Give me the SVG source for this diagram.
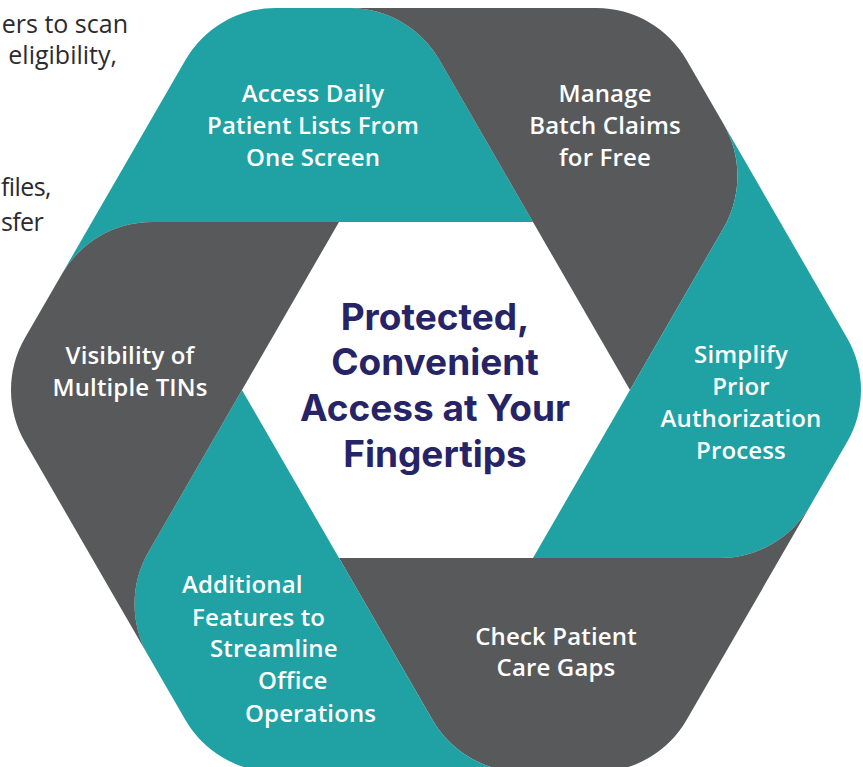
<svg xmlns="http://www.w3.org/2000/svg" xmlns:xlink="http://www.w3.org/1999/xlink" width="863" height="767" viewBox="0 0 863 767">
  <style>
    .teal { fill: #20A1A3; }
    .gray { fill: #58595B; }
    .lbl { font-family: "Open Sans", "Noto Sans", "Liberation Sans", sans-serif; font-size: 24px; letter-spacing: 0.15px; font-weight: 600; fill: #FFFFFF; text-anchor: middle; }
    .lbl-start { text-anchor: start; }
    .title { font-family: Inter, "Open Sans", "Liberation Sans", sans-serif; font-size: 37px; font-weight: 700; fill: #262466; text-anchor: middle; }
    .side { font-family: "Open Sans", "Noto Sans", "Liberation Sans", sans-serif; font-size: 25px; font-weight: 400; fill: #2B2B2D; text-anchor: end; }
    .side-start { text-anchor: start; letter-spacing: -0.6px; }
  </style>
  <defs>
    <path id="seg" d="M97,-168 L-284.1,-168 A104,104 0 0 0 -374.1,-116.04 L-250.55,-330.04 A104,104 0 0 1 -160.55,-382 L-86.55,-382 A104,104 0 0 1 3.45,-330.04 Z"/>
  </defs>
  <rect x="0" y="0" width="863" height="767" fill="#FFFFFF"/>

  <g id="side-text">
    <text class="side" x="128" y="33">ers to scan</text>
    <text class="side" x="117" y="64">eligibility,</text>
    <text class="side side-start" x="1" y="196">files,</text>
    <text class="side side-start" x="1" y="231">sfer</text>
  </g>

  <g id="node-access">
    <use xlink:href="#seg" href="#seg" class="teal" transform="translate(436,390)"/>
    <text class="lbl" x="313" y="102">Access Daily</text>
    <text class="lbl" x="313" y="134">Patient Lists From</text>
    <text class="lbl" x="313" y="166">One Screen</text>
  </g>

  <g id="node-manage">
    <use xlink:href="#seg" href="#seg" class="gray" transform="translate(436,390) rotate(60)"/>
    <text class="lbl" x="605" y="102">Manage</text>
    <text class="lbl" x="605" y="134">Batch Claims</text>
    <text class="lbl" x="605" y="166">for Free</text>
  </g>

  <g id="node-simplify">
    <use xlink:href="#seg" href="#seg" class="teal" transform="translate(436,390) rotate(120)"/>
    <text class="lbl" x="741" y="363">Simplify</text>
    <text class="lbl" x="741" y="395">Prior</text>
    <text class="lbl" x="741" y="427">Authorization</text>
    <text class="lbl" x="741" y="459">Process</text>
  </g>

  <g id="node-check">
    <use xlink:href="#seg" href="#seg" class="gray" transform="translate(436,390) rotate(180)"/>
    <text class="lbl" x="556" y="645">Check Patient</text>
    <text class="lbl" x="556" y="676">Care Gaps</text>
  </g>

  <g id="node-additional">
    <use xlink:href="#seg" href="#seg" class="teal" transform="translate(436,390) rotate(240)"/>
    <text class="lbl lbl-start" x="182" y="593">Additional</text>
    <text class="lbl lbl-start" x="192" y="626">Features to</text>
    <text class="lbl lbl-start" x="210" y="657">Streamline</text>
    <text class="lbl lbl-start" x="258" y="689">Office</text>
    <text class="lbl lbl-start" x="245" y="722">Operations</text>
  </g>

  <g id="node-visibility">
    <use xlink:href="#seg" href="#seg" class="gray" transform="translate(436,390) rotate(300)"/>
    <text class="lbl" x="130" y="364">Visibility of</text>
    <text class="lbl" x="130" y="396">Multiple TINs</text>
  </g>

  <g id="node-center">
    <text class="title" x="435" y="330">Protected,</text>
    <text class="title" x="435" y="375">Convenient</text>
    <text class="title" x="435" y="421">Access at Your</text>
    <text class="title" x="435" y="467">Fingertips</text>
  </g>
</svg>
